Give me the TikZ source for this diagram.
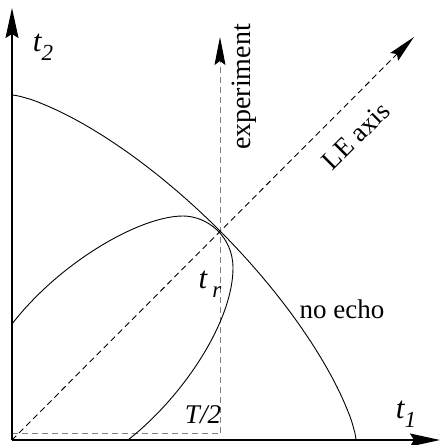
\documentclass[tikz,border=0pt]{standalone}
\usepackage{fontspec}
\setmainfont{Liberation Serif}
\usetikzlibrary{arrows.meta}
\tikzset{
  axis/.style={line width=1.4pt, -{Stealth[length=30pt,width=13pt,inset=4pt]}},
  guide/.style={gray, line width=0.9pt, dash pattern=on 6pt off 4pt},
  leaxis/.style={black, line width=0.9pt, dash pattern=on 6pt off 4pt},
  tip/.style={-{Stealth[length=28pt,width=11pt,inset=4pt,color=black]}},
  curve/.style={line width=0.9pt},
  lab/.style={font=\fontsize{27}{30}\selectfont, inner sep=0pt},
  tlab/.style={font=\fontsize{31}{34}\selectfont\itshape, inner sep=0pt},
}
\newcommand{\subsz}{\fontsize{23}{25}\selectfont}
\begin{document}
\begin{tikzpicture}[x=1pt,y=-1pt]
\useasboundingbox (0,0) rectangle (440,445);
\coordinate (O) at (12,440);
\coordinate (Ytip) at (12,8);
\coordinate (Xtip) at (440,440);
\coordinate (Ttop) at (220,433);
\coordinate (Tleft) at (12,433);
\coordinate (Etip) at (220,37);
\coordinate (LEtip) at (414,37);
\coordinate (A) at (12,324);
\coordinate (B) at (183,216);
\coordinate (C) at (233,268);
\coordinate (D) at (128,440);
% guides
\draw[guide] (Tleft) -- (Ttop);
\draw[guide, tip] (Ttop) -- (Etip);
\draw[leaxis, tip] (O) -- (LEtip);
% no-echo curve (superellipse)
\draw[curve] plot[domain=0:90, samples=120, variable=\t]
  ({12+344*pow(abs(cos(\t)),1.449)}, {440-345*pow(abs(sin(\t)),1.449)});
% inner curve
\draw[curve] (A) .. controls (60,262) and (140,216) .. (B)
  .. controls (207,216) and (233,236) .. (C)
  .. controls (233,320) and (185,395) .. (D);
% axes
\draw[axis] (O) -- (Ytip);
\draw[axis] (O) -- (Xtip);
% labels
\node[tlab] (t2) at (43,47) {t\raisebox{-0.3em}{\subsz 2}};
\node[tlab] (t1) at (406,414) {t\raisebox{-0.3em}{\subsz 1}};
\node[tlab] (tr) at (210,284) {t\,\raisebox{-0.3em}{\subsz r}};
\node[lab] (T2) at (203,415) {\itshape T/2};
\node[lab] (noecho) at (342,309) {no echo};
\node[lab, font=\fontsize{28}{30}\selectfont, rotate=90] (exp) at (244,87) {experiment};
\node[lab, rotate=45] (le) at (356,136) {LE axis};
\end{tikzpicture}
\end{document}
